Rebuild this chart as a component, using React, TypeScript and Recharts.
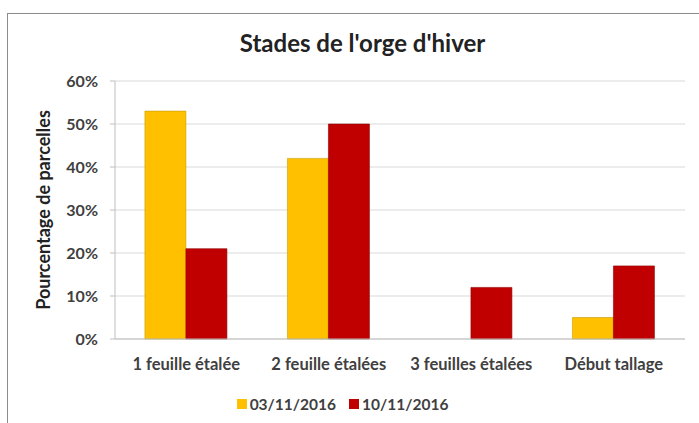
import { BarChart, Bar, XAxis, YAxis, CartesianGrid, Legend } from "recharts";

const stades = ["1 feuille étalée", "2 feuille étalées", "3 feuilles étalées", "Début tallage"];
const serie0311 = [53, 42, 0, 5];
const serie1011 = [21, 50, 12, 17];
const yTicks = [0, 10, 20, 30, 40, 50, 60];

const YELLOW = "#FFC000";
const RED = "#C00000";
const FONT = "Lato, 'Open Sans', sans-serif";
const TEXT = "#404040";

const data = stades.map((s, i) => ({ stade: s, d1: serie0311[i], d2: serie1011[i] }));

function LegendBox() {
  const items = [
    { label: "03/11/2016", color: YELLOW },
    { label: "10/11/2016", color: RED },
  ];
  return (
    <div style={{ display: "flex", justifyContent: "center", gap: 13, fontFamily: FONT, fontWeight: 700, fontSize: 15.5, color: TEXT, paddingTop: 2 }}>
      {items.map((it) => (
        <div key={it.label} style={{ display: "flex", alignItems: "center", gap: 3 }}>
          <span style={{ width: 10, height: 10, background: it.color, display: "inline-block" }} />
          <span>{it.label}</span>
        </div>
      ))}
    </div>
  );
}

export default function App() {
  return (
    <div style={{ position: "absolute", left: 0, top: 0, width: 699, height: 423, background: "#fff", overflow: "hidden" }}>
      <div style={{ position: "absolute", left: 7, top: 13, width: 700, height: 430, border: "1px solid #8c8c8c", boxSizing: "border-box" }} />
      <div style={{ position: "absolute", top: 28, left: 0, width: 725, textAlign: "center", fontFamily: FONT, fontWeight: 700, fontSize: 24, color: "#222" }}>
        Stades de l'orge d'hiver
      </div>
      <div style={{ position: "absolute", left: 0, top: 0 }}>
        <BarChart width={699} height={423} data={data} margin={{ top: 81, right: 14, left: 0, bottom: 0 }} barCategoryGap="21%" barGap={0}>
          <CartesianGrid vertical={false} stroke="#d9d9d9" />
          <XAxis
            dataKey="stade"
            stroke="#bfbfbf"
            tickLine={false}
            tickMargin={13}
            height={54}
            interval={0}
            tick={{ fill: TEXT, fontFamily: FONT, fontWeight: 700, fontSize: 16.5 }}
          />
          <YAxis
            width={115}
            domain={[0, 60]}
            ticks={yTicks}
            tickFormatter={(v) => `${v}%`}
            stroke="#bfbfbf"
            tickSize={5}
            tickMargin={12}
            tick={{ fill: TEXT, fontFamily: FONT, fontWeight: 700, fontSize: 16 }}
            label={{ value: "Pourcentage de parcelles", angle: -90, position: "insideLeft", offset: 44, style: { textAnchor: "middle", fill: "#222", fontFamily: FONT, fontWeight: 700, fontSize: 18 } }}
          />
          <Legend content={() => <LegendBox />} wrapperStyle={{ height: 30 }} verticalAlign="bottom" />
          <Bar dataKey="d1" name="03/11/2016" fill={YELLOW} stroke="#c89a00" strokeWidth={0.6} isAnimationActive={false} />
          <Bar dataKey="d2" name="10/11/2016" fill={RED} stroke="#8f0000" strokeWidth={0.6} isAnimationActive={false} />
        </BarChart>
      </div>
    </div>
  );
}
